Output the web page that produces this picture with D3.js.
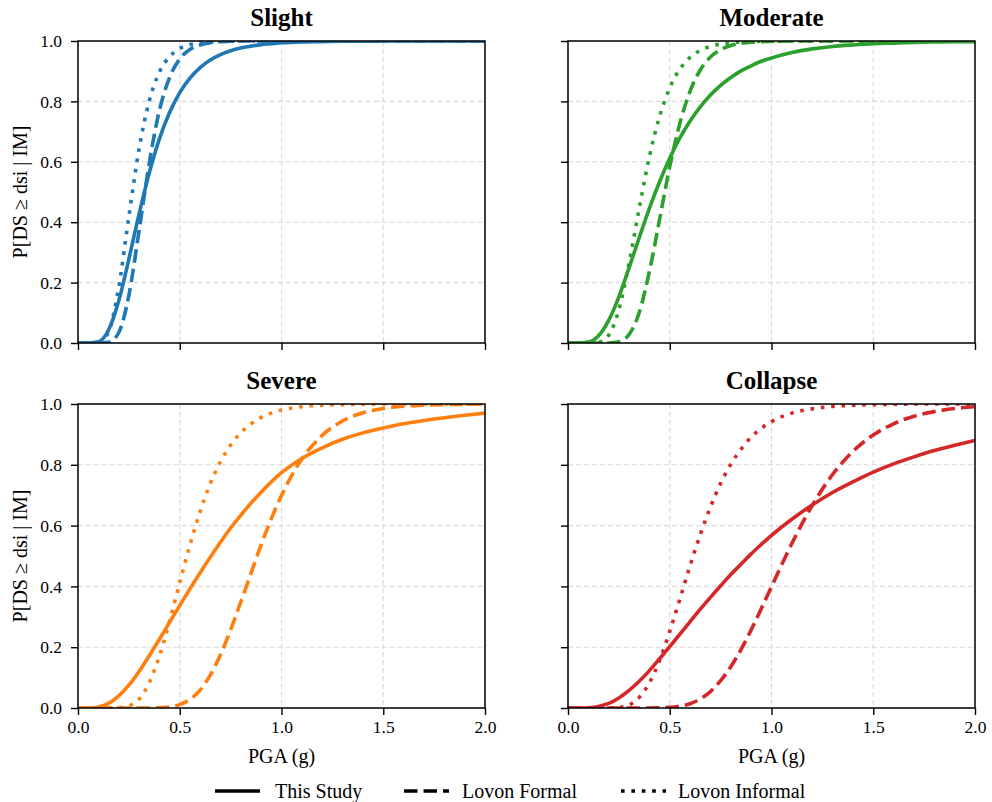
<!DOCTYPE html>
<html>
<head>
<meta charset="utf-8">
<script src="https://cdn.jsdelivr.net/npm/d3@7"></script>
<style>
  body { margin: 0; background: #fff; }
  svg { display: block; }
  text { font-family: "Liberation Serif", "Times New Roman", serif; fill: #000; }
</style>
</head>
<body>
<svg width="992" height="802"></svg>
<script>
// PGA sample points (g)
var pga = [0, 0.05, 0.1, 0.15, 0.2, 0.25, 0.3, 0.35, 0.4, 0.45, 0.5, 0.55, 0.6, 0.65, 0.7, 0.75,
  0.8, 0.85, 0.9, 0.95, 1.0, 1.1, 1.2, 1.3, 1.4, 1.5, 1.6, 1.7, 1.8, 1.9, 2.0];

var damageStates = ["Slight", "Moderate", "Severe", "Collapse"];
var stateColors = ["#1f77b4", "#2ca02c", "#ff7f0e", "#d62728"];
var seriesNames = ["This Study", "Lovon Formal", "Lovon Informal"];

// probabilities
var slightStudy    = [0,0,0.004,0.043,0.139,0.278,0.427,0.563,0.676,0.763,0.829,0.877,0.912,0.937,0.955,0.968,0.977,0.983,0.988,0.991,0.994,0.997,0.998,0.999,0.999,1,1,1,1,1,1];
var slightFormal   = [0,0,0,0.002,0.034,0.158,0.371,0.595,0.770,0.879,0.941,0.972,0.987,0.994,0.998,0.999,1,1,1,1,1,1,1,1,1,1,1,1,1,1,1];
var slightInformal = [0,0,0.001,0.036,0.184,0.419,0.642,0.801,0.897,0.948,0.975,0.988,0.994,0.997,0.999,0.999,1,1,1,1,1,1,1,1,1,1,1,1,1,1,1];

var moderateStudy    = [0,0,0.003,0.024,0.075,0.153,0.249,0.349,0.446,0.534,0.612,0.679,0.735,0.782,0.821,0.853,0.879,0.901,0.918,0.933,0.944,0.962,0.974,0.982,0.987,0.991,0.993,0.995,0.997,0.998,0.998];
var moderateFormal   = [0,0,0,0,0,0.004,0.028,0.101,0.237,0.409,0.584,0.728,0.834,0.904,0.947,0.971,0.985,0.992,0.996,0.998,0.999,1,1,1,1,1,1,1,1,1,1];
var moderateInformal = [0,0,0,0.002,0.026,0.111,0.264,0.446,0.617,0.750,0.845,0.907,0.946,0.969,0.982,0.990,0.994,0.997,0.998,0.999,0.999,1,1,1,1,1,1,1,1,1,1];

var severeStudy    = [0,0,0.003,0.015,0.040,0.075,0.120,0.172,0.226,0.282,0.337,0.392,0.445,0.496,0.545,0.592,0.634,0.674,0.710,0.744,0.774,0.821,0.856,0.884,0.905,0.921,0.935,0.946,0.955,0.963,0.970];
var severeFormal   = [0,0,0,0,0,0,0,0,0.001,0.003,0.011,0.028,0.059,0.108,0.175,0.257,0.349,0.443,0.537,0.623,0.699,0.819,0.897,0.944,0.971,0.985,0.993,0.996,0.998,0.999,1];
var severeInformal = [0,0,0,0,0.001,0.007,0.029,0.083,0.171,0.285,0.413,0.536,0.646,0.738,0.810,0.865,0.906,0.935,0.956,0.970,0.980,0.991,0.996,0.998,0.999,1,1,1,1,1,1];

var collapseStudy    = [0,0,0.001,0.005,0.015,0.033,0.058,0.088,0.123,0.162,0.202,0.243,0.284,0.325,0.364,0.402,0.439,0.473,0.507,0.538,0.568,0.621,0.668,0.709,0.744,0.776,0.803,0.826,0.847,0.864,0.880];
var collapseFormal   = [0,0,0,0,0,0,0,0,0,0.001,0.002,0.006,0.014,0.030,0.054,0.090,0.136,0.192,0.257,0.327,0.399,0.541,0.666,0.768,0.844,0.898,0.935,0.960,0.975,0.985,0.991];
var collapseInformal = [0,0,0,0,0,0.002,0.010,0.035,0.083,0.156,0.252,0.359,0.468,0.570,0.661,0.739,0.802,0.851,0.891,0.920,0.942,0.970,0.984,0.992,0.996,0.998,0.999,1,1,1,1];

var xTicks = [0, 0.5, 1.0, 1.5, 2.0];
var yTicks = [0, 0.2, 0.4, 0.6, 0.8, 1.0];

var curves = [
  [slightStudy, slightFormal, slightInformal],
  [moderateStudy, moderateFormal, moderateInformal],
  [severeStudy, severeFormal, severeInformal],
  [collapseStudy, collapseFormal, collapseInformal]
];
var dashes = [null, "13.5,6", "3.6,6.8"];

var colX = [[78, 485], [568, 975]];
var rowY = [[41, 343], [404, 708]];

var svg = d3.select("svg");

for (var k = 0; k < 4; k++) {
  var col = k % 2, row = Math.floor(k / 2);
  var x = d3.scaleLinear().domain([0, 2]).range(colX[col]);
  var y = d3.scaleLinear().domain([0, 1]).range([rowY[row][1], rowY[row][0]]);
  var g = svg.append("g");

  g.append("clipPath").attr("id", "clip" + k)
    .append("rect")
    .attr("x", colX[col][0]).attr("y", rowY[row][0])
    .attr("width", colX[col][1] - colX[col][0]).attr("height", rowY[row][1] - rowY[row][0]);

  // grid
  g.selectAll(".gx").data(xTicks).enter().append("line")
    .attr("x1", d => x(d)).attr("x2", d => x(d))
    .attr("y1", rowY[row][0]).attr("y2", rowY[row][1])
    .attr("stroke", "#dadada").attr("stroke-width", 1.1).attr("stroke-dasharray", "5,3");
  g.selectAll(".gy").data(yTicks).enter().append("line")
    .attr("y1", d => y(d)).attr("y2", d => y(d))
    .attr("x1", colX[col][0]).attr("x2", colX[col][1])
    .attr("stroke", "#dadada").attr("stroke-width", 1.1).attr("stroke-dasharray", "5,3");

  // curves
  var line = d3.line()
    .x((d, i) => x(pga[i]))
    .y(d => y(d))
    .curve(d3.curveMonotoneX);
  var cg = g.append("g").attr("clip-path", "url(#clip" + k + ")");
  for (var s = 0; s < 3; s++) {
    var p = cg.append("path")
      .attr("d", line(curves[k][s]))
      .attr("fill", "none")
      .attr("stroke", stateColors[k])
      .attr("stroke-width", 3.6);
    if (dashes[s]) p.attr("stroke-dasharray", dashes[s]);
  }

  // axes
  var xAxis = d3.axisBottom(x).tickValues(xTicks).tickSize(7).tickPadding(6)
    .tickFormat(row == 1 ? d3.format(".1f") : "");
  var ax = g.append("g").attr("transform", "translate(0," + rowY[row][1] + ")").call(xAxis);
  var yAxis = d3.axisLeft(y).tickValues(yTicks).tickSize(7).tickPadding(9)
    .tickFormat(col == 0 ? d3.format(".1f") : "");
  var ay = g.append("g").attr("transform", "translate(" + colX[col][0] + ",0)").call(yAxis);
  [ax, ay].forEach(function(a) {
    a.attr("font-family", "Liberation Serif").attr("font-size", 17.5);
    a.select(".domain").remove();
    a.selectAll("line").attr("stroke", "#000").attr("stroke-width", 1.4);
    a.selectAll("text").style("font-family", "'Liberation Serif', serif").style("font-size", "17.5px").attr("fill", "#000");
  });

  // frame
  g.append("rect")
    .attr("x", colX[col][0]).attr("y", rowY[row][0])
    .attr("width", colX[col][1] - colX[col][0]).attr("height", rowY[row][1] - rowY[row][0])
    .attr("fill", "none").attr("stroke", "#000").attr("stroke-width", 1.5);

  g.append("text")
    .attr("x", (colX[col][0] + colX[col][1]) / 2).attr("y", rowY[row][0] - 15)
    .attr("text-anchor", "middle")
    .style("font-size", "25px").style("font-weight", "bold")
    .text(damageStates[k]);

  if (col == 0) {
    g.append("text")
      .attr("transform", "translate(27," + (rowY[row][0] + rowY[row][1]) / 2 + ") rotate(-90)")
      .attr("text-anchor", "middle")
      .style("font-size", "20px")
      .text("P[DS \u2265 dsi | IM]");
  }
  if (row == 1) {
    g.append("text")
      .attr("x", (colX[col][0] + colX[col][1]) / 2).attr("y", 763)
      .attr("text-anchor", "middle")
      .style("font-size", "20px")
      .text("PGA (g)");
  }
}

// legend
var legX = [215, 404, 621];
var legTextX = [275, 462, 678];
var leg = svg.append("g");
seriesNames.forEach(function(name, i) {
  var l = leg.append("line")
    .attr("x1", legX[i]).attr("x2", legX[i] + 45)
    .attr("y1", 791).attr("y2", 791)
    .attr("stroke", "#000").attr("stroke-width", 3.6);
  if (dashes[i]) l.attr("stroke-dasharray", dashes[i]);
  leg.append("text")
    .attr("x", legTextX[i]).attr("y", 797.5)
    .style("font-size", "20px")
    .text(name);
});
</script>
</body>
</html>
